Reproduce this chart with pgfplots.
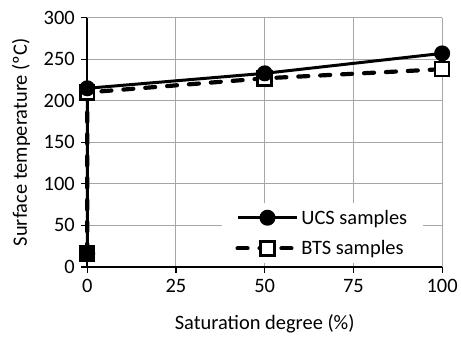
\documentclass[border=0pt]{standalone}
\usepackage{pgfplots}
\pgfplotsset{compat=1.18}
\usepackage{fontspec}
\setmainfont{Carlito}
\begin{document}
\begin{tikzpicture}[font=\fontsize{20.5}{24}\selectfont]
\begin{axis}[
  scale only axis, width=356pt, height=250pt,
  xmin=0, xmax=100, ymin=0, ymax=300,
  xtick={0,25,50,75,100}, ytick={0,50,100,150,200,250,300},
  axis x line*=bottom, axis y line*=left,
  axis line style={black, line width=1.8pt, -},
  grid=major, grid style={draw=black!35, line width=1pt},
  tick style={black, line width=1.3pt}, major tick length=6pt, tick align=outside,
  /pgf/number format/assume math mode=true,
  yticklabel style={xshift=-3pt, inner ysep=11pt},
  xticklabel style={yshift=-3pt},
  xlabel={Saturation degree (\%)}, ylabel={Surface temperature (ºC)},
  xlabel style={yshift=-6pt, inner ysep=12pt}, ylabel style={yshift=-2pt, inner xsep=8pt, inner ysep=12pt},
  clip=false,
  reverse legend,
  legend style={at={(0.947,0.014)}, anchor=south east, draw=none, fill=white,
    inner xsep=14pt, inner ysep=5pt, row sep=11pt, cells={anchor=west},
    font=\fontsize{20.5}{24}\selectfont},
  legend image code/.code={\draw[mark repeat=2,mark phase=2,#1] plot coordinates {(0pt,0pt)(30pt,0pt)(60pt,0pt)};},
]
\addplot[black, line width=4.2pt, dash pattern=on 10pt off 12pt, line cap=round,
  mark=square*, mark size=7pt, mark options={solid, fill=white, line width=2.5pt}]
  coordinates {(0,16) (0,210) (50,227) (100,238)};
\addlegendentry{BTS samples}
\addplot[black, line width=3pt, mark=*, mark size=6.5pt, mark options={solid}]
  coordinates {(0,16) (0,215) (50,233) (100,257)};
\addlegendentry{UCS samples}
\end{axis}
\end{tikzpicture}
\end{document}
